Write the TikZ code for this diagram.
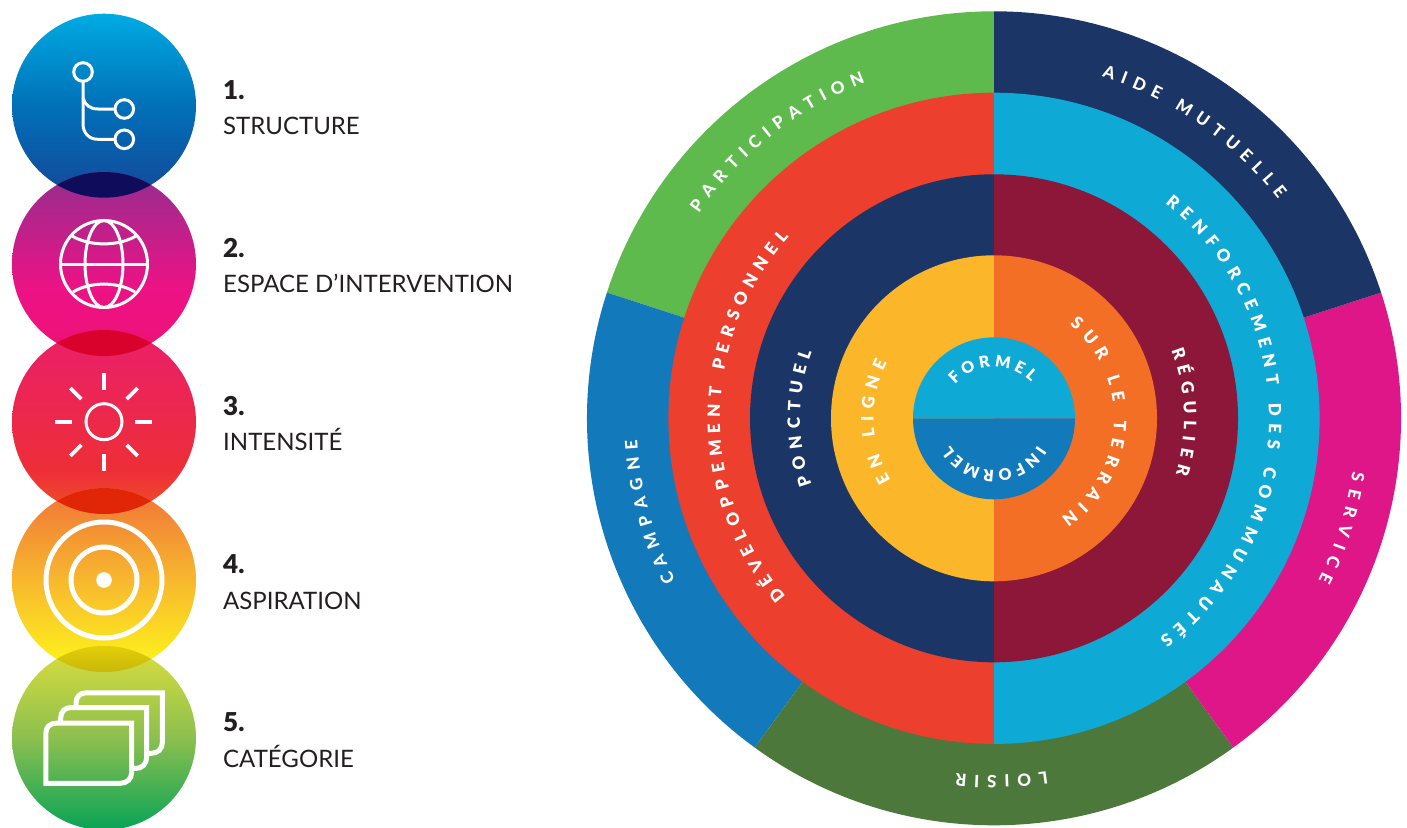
\documentclass[tikz,border=0pt]{standalone}
\usepackage{fontspec}
\setmainfont{Lato}
\newfontfamily\lblack{Lato Black}
\newfontfamily\lheavy{Lato Heavy}
\usetikzlibrary{decorations.text}
\definecolor{cgreen}{HTML}{5FBA4D}
\definecolor{cnavy}{HTML}{1B3666}
\definecolor{cmag}{HTML}{DF1688}
\definecolor{cdkgreen}{HTML}{4D783C}
\definecolor{cblue}{HTML}{127ABA}
\definecolor{cred}{HTML}{EC3F2D}
\definecolor{ccyan}{HTML}{0FA9D6}
\definecolor{cmaroon}{HTML}{8C1738}
\definecolor{cyellow}{HTML}{FBB62A}
\definecolor{corange}{HTML}{F36F26}
\definecolor{legtxt}{HTML}{231F20}
\definecolor{lensA}{HTML}{100C5C}
\definecolor{lensB}{HTML}{D8022C}
\definecolor{lensC}{HTML}{E12608}
\definecolor{lensDa}{HTML}{E4CE08}
\definecolor{lensDb}{HTML}{C7B80A}
\pgfdeclareverticalshading{gradA}{100bp}{
 rgb(0bp)=(0.08,0.28,0.60);
 rgb(25bp)=(0.08,0.28,0.60);
 rgb(50bp)=(0.0,0.44,0.72);
 rgb(75bp)=(0.0,0.67,0.89);
 rgb(100bp)=(0.0,0.67,0.89)}
\pgfdeclareverticalshading{gradB}{100bp}{
 rgb(0bp)=(0.93,0.07,0.46);
 rgb(25bp)=(0.93,0.07,0.46);
 rgb(43bp)=(0.93,0.07,0.52);
 rgb(75bp)=(0.58,0.18,0.56);
 rgb(100bp)=(0.58,0.18,0.56)}
\pgfdeclareverticalshading{gradC}{100bp}{
 rgb(0bp)=(0.94,0.32,0.15);
 rgb(25bp)=(0.94,0.32,0.15);
 rgb(37bp)=(0.93,0.18,0.22);
 rgb(75bp)=(0.92,0.12,0.42);
 rgb(100bp)=(0.92,0.12,0.42)}
\pgfdeclareverticalshading{gradD}{100bp}{
 rgb(0bp)=(0.99,0.92,0.12);
 rgb(30bp)=(0.99,0.92,0.12);
 rgb(50bp)=(0.97,0.72,0.18);
 rgb(75bp)=(0.94,0.45,0.22);
 rgb(100bp)=(0.94,0.45,0.22)}
\pgfdeclareverticalshading{gradE}{100bp}{
 rgb(0bp)=(0.03,0.64,0.34);
 rgb(25bp)=(0.03,0.64,0.34);
 rgb(50bp)=(0.55,0.75,0.31);
 rgb(75bp)=(0.86,0.87,0.24);
 rgb(100bp)=(0.86,0.87,0.24)}
\tikzset{
  icon/.style={draw=white,line width=3pt},
  iconb/.style={draw=white,line width=5pt},
  legnum/.style={anchor=base west,inner sep=0pt,text=legtxt,font=\lblack\fontsize{26}{26}\selectfont},
  leglab/.style={anchor=base west,inner sep=0pt,text=legtxt,font=\fontsize{24}{26}\selectfont}
}
\newcommand\pieseg[4]{\fill[#4] (0,0) -- (#2:#1) arc[start angle=#2,end angle=#3,radius=#1] -- cycle;}
\newcommand\arctext[5]{\path[decorate,decoration={text along path,text align={fit to path},text={|#1\color{white}|#5}}] (#3:#2) arc[start angle=#3,end angle=#4,radius=#2];}
\newcommand\fs{\lblack\fontsize{16}{16}\selectfont}
\newcommand\fb{\lblack\fontsize{17}{17}\selectfont}
\newcommand\fo{\lheavy\fontsize{17}{17}\selectfont}
\begin{document}
\begin{tikzpicture}[x=1pt,y=1pt]
\useasboundingbox (0,0) rectangle (1407,-827);
\fill[white] (0,0) rectangle (1407,-827);
% wheel
\begin{scope}[shift={(994,-418.3)}]
  \pieseg{407}{90}{162}{cgreen}
  \pieseg{407}{162}{234}{cblue}
  \pieseg{407}{234}{306}{cdkgreen}
  \pieseg{407}{306}{378}{cmag}
  \pieseg{407}{18}{90}{cnavy}
  \pieseg{325.6}{90}{270}{cred}
  \pieseg{325.6}{-90}{90}{ccyan}
  \pieseg{244}{90}{270}{cnavy}
  \pieseg{244}{-90}{90}{cmaroon}
  \pieseg{163}{90}{270}{cyellow}
  \pieseg{163}{-90}{90}{corange}
  \pieseg{81}{0}{180}{ccyan}
  \pieseg{81}{180}{360}{cblue}
  \arctext{\fs}{51.5}{139}{44}{FORMEL}
  \arctext{\fs}{51.5}{-32}{-148}{INFORMEL}
  \arctext{\fb}{120}{51}{-56}{SUR LE TERRAIN}
  \arctext{\fb}{120.5}{211}{152.5}{EN LIGNE}
  \arctext{\fb}{194}{200}{160}{PONCTUEL}
  \arctext{\fb}{190}{21}{-17}{RÉGULIER}
  \arctext{\fb}{274}{220.5}{138.5}{DÉVELOPPEMENT PERSONNEL}
  \arctext{\fb}{275}{51.5}{-53}{RENFORCEMENT DES COMMUNAUTÉS}
  \arctext{\fo}{359.5}{145.2}{111}{PARTICIPATION}
  \arctext{\fo}{357.5}{207}{183.5}{CAMPAGNE}
  \arctext{\fo}{358.5}{72.5}{37.6}{AIDE MUTUELLE}
  \arctext{\fo}{362.5}{-8.5}{-26.5}{SERVICE}
  \arctext{\fo}{357}{-81.5}{-96.1}{LOISIR}
\end{scope}
% legend discs
\shade[shading=gradA] (104,-105.7) circle[radius=92];
\shade[shading=gradB] (104,-264) circle[radius=92];
\shade[shading=gradC] (104,-422) circle[radius=92];
\shade[shading=gradD] (104,-580) circle[radius=92];
\shade[shading=gradE] (104,-738) circle[radius=92];
\begin{scope}
  \clip (104,-105.7) circle[radius=92];
  \fill[lensA] (104,-264) circle[radius=92];
\end{scope}
\begin{scope}
  \clip (104,-264) circle[radius=92];
  \fill[lensB] (104,-422) circle[radius=92];
\end{scope}
\begin{scope}
  \clip (104,-422) circle[radius=92];
  \fill[lensC] (104,-580) circle[radius=92];
\end{scope}
\begin{scope}
  \clip (104,-580) circle[radius=92];
  \clip (104,-738) circle[radius=92];
  \shade[top color=lensDa,bottom color=lensDb] (12,-646) rectangle (196,-672);
\end{scope}
% icon 1
\draw[icon] (83,-72) circle[radius=9.3];
\draw[icon] (124.3,-109) circle[radius=9.3];
\draw[icon] (124.3,-139.3) circle[radius=9.3];
\draw[icon] (83,-81.3) -- (83,-124) .. controls (83,-133) and (89,-139.3) .. (98,-139.3) -- (115,-139.3);
\draw[icon] (83,-98) .. controls (85,-105) and (90,-109) .. (98,-109) -- (115,-109);
% icon 2
\draw[icon] (104,-264) circle[radius=43.5];
\draw[icon] (104,-264) ellipse[x radius=19,y radius=43.5];
\draw[icon] (60.5,-264) -- (147.5,-264);
\draw[icon] (72,-236) .. controls (90,-246.5) and (118,-246.5) .. (136,-236);
\draw[icon] (73,-292) .. controls (90,-281.5) and (118,-281.5) .. (135,-292);
% icon 3
\draw[icon] (104,-421.7) circle[radius=18];
\draw[draw=white,line width=4.4pt] (104,-373.3) -- (104,-390);
\draw[draw=white,line width=4.4pt] (104,-454) -- (104,-470.7);
\draw[draw=white,line width=4.4pt] (55,-422) -- (72,-422);
\draw[draw=white,line width=4.4pt] (135,-422) -- (152,-422);
\draw[draw=white,line width=3.8pt] (70.3,-388) -- (81.3,-399);
\draw[draw=white,line width=3.8pt] (137.7,-388) -- (126.7,-399);
\draw[draw=white,line width=3.8pt] (70.3,-456) -- (81.3,-445);
\draw[draw=white,line width=3.8pt] (137.7,-456) -- (126.7,-445);
% icon 4
\draw[iconb] (104,-580) circle[radius=58];
\draw[iconb] (104,-580) circle[radius=33];
\fill[white] (104,-580) circle[radius=7.8];
% icon 5
\draw[iconb,line join=miter] (76,-707) -- (76,-703) .. controls (76,-697) and (80,-692.8) .. (86,-692.8) -- (162.4,-692.8) -- (162.4,-742) .. controls (162.4,-749) and (158,-753.3) .. (151,-753.3) -- (147,-753.3);
\draw[iconb,line join=miter] (60.7,-723) -- (60.7,-718) .. controls (60.7,-711.5) and (65,-707.5) .. (71,-707.5) -- (146.7,-707.5) -- (146.7,-757) .. controls (146.7,-764) and (142,-768.4) .. (136,-768.4) -- (132,-768.4);
\draw[iconb,line join=miter] (45.8,-783.3) -- (45.8,-733.5) .. controls (45.8,-727) and (50,-723.2) .. (56,-723.2) -- (131.7,-723.2) -- (131.7,-772) .. controls (131.7,-779) and (127,-783.3) .. (120,-783.3) -- cycle;
% legend text
\node[legnum] (n1) at (223,-99.5) {1.};
\node[leglab] (l1) at (223,-134.5) {STRUCTURE};
\node[legnum] (n2) at (223,-257.5) {2.};
\node[leglab] (l2) at (223,-292.5) {ESPACE D’INTERVENTION};
\node[legnum] (n3) at (223,-415.5) {3.};
\node[leglab] (l3) at (223,-450.5) {INTENSITÉ};
\node[legnum] (n4) at (223,-573) {4.};
\node[leglab] (l4) at (223,-609.5) {ASPIRATION};
\node[legnum] (n5) at (223,-731) {5.};
\node[leglab] (l5) at (223,-767.5) {CATÉGORIE};
\end{tikzpicture}
\end{document}
